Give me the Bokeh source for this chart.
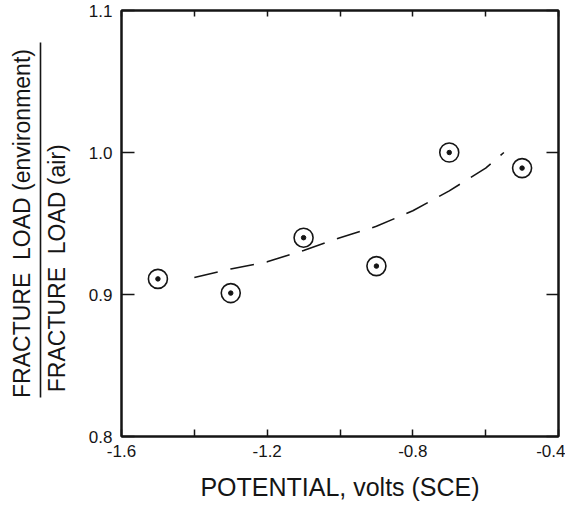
from bokeh.plotting import figure
from bokeh.models import FixedTicker, LinearAxis, Range1d, PrintfTickFormatter
from bokeh.embed import file_html
from bokeh.resources import INLINE

# ---- data ----
potential = [-1.5, -1.3, -1.1, -0.9, -0.7, -0.5]
load_ratio = [0.911, 0.901, 0.940, 0.920, 1.000, 0.989]

fit_potential = [-1.40, -1.30, -1.20, -1.10, -1.00, -0.90, -0.80, -0.70, -0.60, -0.55]
fit_ratio = [0.912, 0.918, 0.923, 0.931, 0.940, 0.948, 0.959, 0.973, 0.989, 1.000]

x_major = [-1.6, -1.2, -0.8, -0.4]
x_minor = [-1.4, -1.0, -0.6]
y_major = [0.8, 0.9, 1.0, 1.1]
fraction_bar = (0.8275, 1.0775)   # extent of the fraction bar in the y-label

NB = "\u00a0"
numerator = "FRACTURE" + NB + NB + "LOAD (environment)"
denominator = "FRACTURE" + NB + NB + "LOAD (air)" + NB * 14

INK = "#151515"
FONT = "Liberation Sans"

p = figure(width=565, height=510, output_backend="svg", toolbar_location=None,
           x_range=Range1d(-1.6, -0.4), y_range=Range1d(0.8, 1.1),
           min_border_left=121, min_border_right=7, min_border_top=10, min_border_bottom=74)
p.background_fill_color = "white"
p.border_fill_color = "white"
p.grid.visible = False
p.outline_line_color = INK
p.outline_line_width = 2

def style_axis(ax, labels=True):
    ax.axis_line_color = INK
    ax.axis_line_width = 2
    ax.major_tick_line_color = INK
    ax.minor_tick_line_color = INK
    ax.major_tick_line_width = 1.5
    ax.minor_tick_line_width = 1.5
    ax.major_tick_out = 0
    ax.minor_tick_out = 0
    ax.major_label_text_font = FONT
    ax.major_label_text_font_size = "17px"
    ax.major_label_text_color = INK
    ax.formatter = PrintfTickFormatter(format="%.1f")
    if not labels:
        ax.major_label_text_color = None

# bottom x axis
xa = p.xaxis[0]
xa.ticker = FixedTicker(ticks=x_major, minor_ticks=x_minor)
style_axis(xa)
xa.major_tick_in = 7
xa.minor_tick_in = 7
xa.major_label_standoff = 8
xa.axis_label = "POTENTIAL, volts (SCE)"
xa.axis_label_text_font = FONT
xa.axis_label_text_font_size = "25px"
xa.axis_label_text_font_style = "normal"
xa.axis_label_text_color = INK
xa.axis_label_standoff = 13

# left y axis (tick labels + denominator)
ya = p.yaxis[0]
ya.ticker = FixedTicker(ticks=y_major, minor_ticks=[])
style_axis(ya)
ya.major_tick_in = 13
ya.major_label_standoff = 9
ya.axis_label = denominator
ya.axis_label_text_font = FONT
ya.axis_label_text_font_size = "23px"
ya.axis_label_text_font_style = "normal"
ya.axis_label_text_color = INK
ya.axis_label_standoff = 16

# fraction bar: an axis line limited to the bar's extent
bar_axis = LinearAxis(ticker=FixedTicker(ticks=[], minor_ticks=[]), bounds=fraction_bar)
bar_axis.axis_line_color = INK
bar_axis.axis_line_width = 1.6
bar_axis.major_label_text_color = None
p.add_layout(bar_axis, "left")

# numerator
num_axis = LinearAxis(ticker=FixedTicker(ticks=[], minor_ticks=[]))
num_axis.axis_line_color = None
num_axis.major_label_text_color = None
num_axis.axis_label = numerator
num_axis.axis_label_text_font = FONT
num_axis.axis_label_text_font_size = "23px"
num_axis.axis_label_text_font_style = "normal"
num_axis.axis_label_text_color = INK
num_axis.axis_label_standoff = 6
p.add_layout(num_axis, "left")

# top and right axes (ticks only)
top = LinearAxis(ticker=FixedTicker(ticks=x_major, minor_ticks=x_minor))
style_axis(top, labels=False)
top.major_tick_in = 6
top.minor_tick_in = 6
p.add_layout(top, "above")

right = LinearAxis(ticker=FixedTicker(ticks=y_major, minor_ticks=[]))
style_axis(right, labels=False)
right.major_tick_in = 12
p.add_layout(right, "right")

# dashed trend curve
p.line(fit_potential, fit_ratio, line_color=INK, line_width=1.6, line_dash="24 13")

# data points: open circle with centre dot
p.scatter(potential, load_ratio, marker="circle", size=19, fill_color="white",
          line_color=INK, line_width=1.6)
p.scatter(potential, load_ratio, marker="circle", size=4.5, fill_color=INK, line_color=INK)

open("out.html", "w").write(file_html(p, INLINE))
